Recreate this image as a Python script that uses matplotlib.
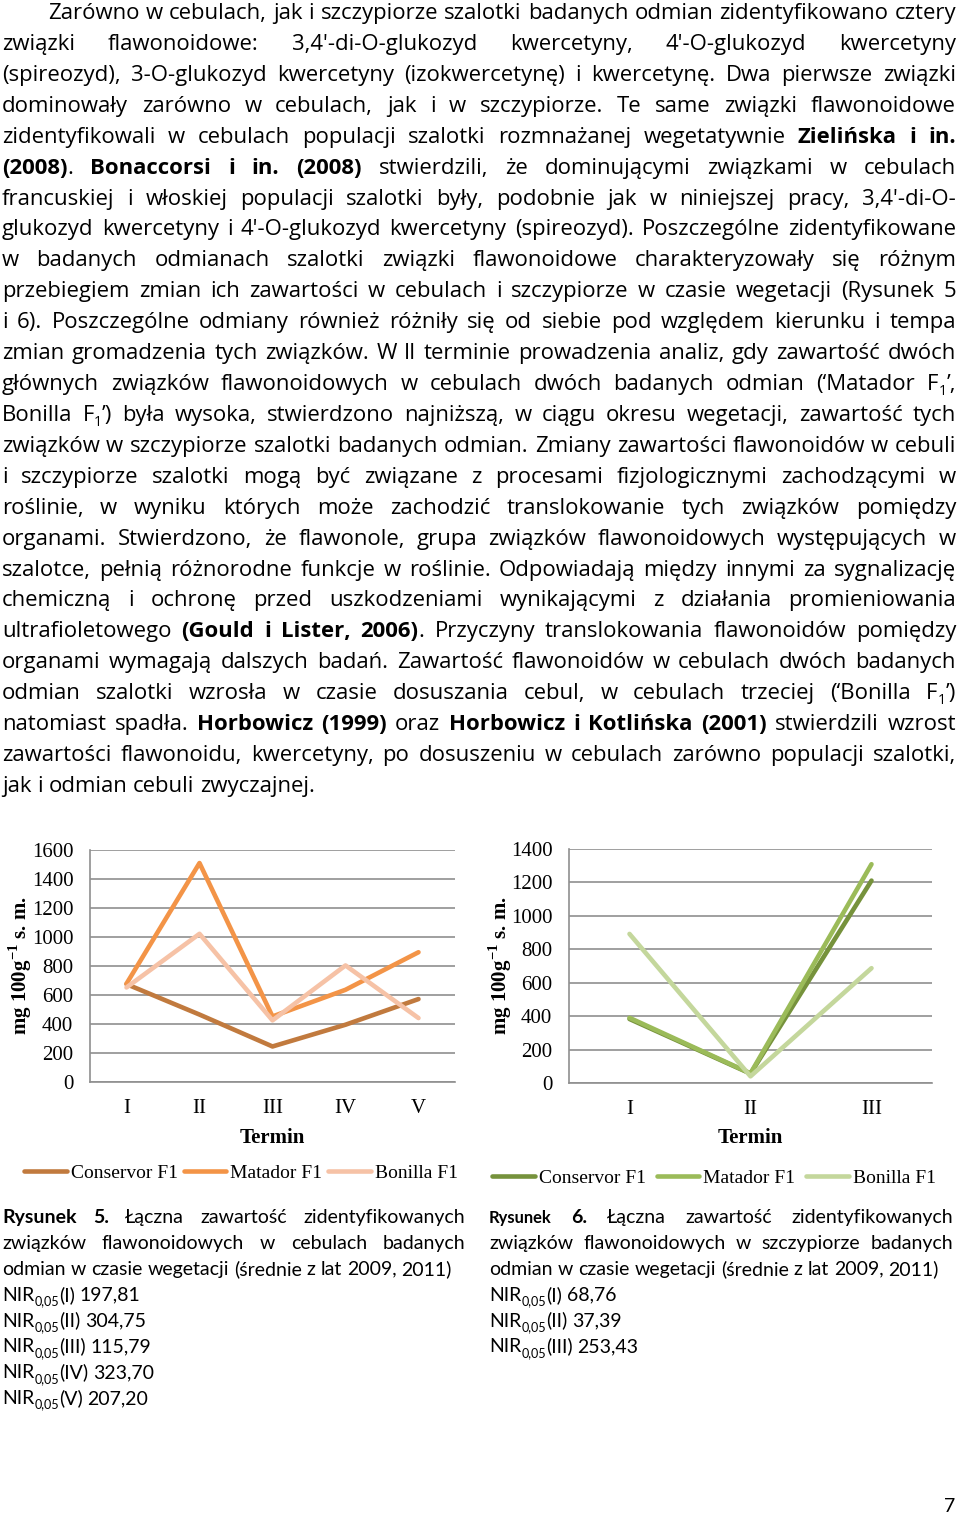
import re
import numpy as np
import matplotlib
matplotlib.use("Agg")
import matplotlib.pyplot as plt
from matplotlib import font_manager

# chart data (mg 100g-1 s. m.)
terms_bulbs = ["I", "II", "III", "IV", "V"]
conservor_bulbs = [675, 465, 245, 395, 572]
matador_bulbs = [678, 1510, 452, 636, 895]
bonilla_bulbs = [652, 1022, 425, 804, 441]

terms_chives = ["I", "II", "III"]
conservor_chives = [383, 56, 1211]
matador_chives = [390, 58, 1309]
bonilla_chives = [892, 40, 687]

varieties = ["Conservor F1", "Matador F1", "Bonilla F1"]
orange_colors = ["#C17A3E", "#F39447", "#F6C2A6"]
green_colors = ["#76923C", "#9BBB59", "#C4D79C"]

# page text; ** toggles bold, ~~ toggles smaller, _{..} is a subscript
body_lines = [
    "Zarówno w cebulach, jak i szczypiorze szalotki badanych odmian zidentyfikowano cztery",
    "związki flawonoidowe: 3,4'-di-O-glukozyd kwercetyny, 4'-O-glukozyd kwercetyny",
    "(spireozyd), 3-O-glukozyd kwercetyny (izokwercetynę) i kwercetynę. Dwa pierwsze związki",
    "dominowały zarówno w cebulach, jak i w szczypiorze. Te same związki flawonoidowe",
    "zidentyfikowali w cebulach populacji szalotki rozmnażanej wegetatywnie **Zielińska i in.**",
    "**(2008)**. **Bonaccorsi i in. (2008)** stwierdzili, że dominującymi związkami w cebulach",
    "francuskiej i włoskiej populacji szalotki były, podobnie jak w niniejszej pracy, 3,4'-di-O-",
    "glukozyd kwercetyny i 4'-O-glukozyd kwercetyny (spireozyd). Poszczególne zidentyfikowane",
    "w badanych odmianach szalotki związki flawonoidowe charakteryzowały się różnym",
    "przebiegiem zmian ich zawartości w cebulach i szczypiorze w czasie wegetacji (Rysunek 5",
    "i 6). Poszczególne odmiany również różniły się od siebie pod względem kierunku i tempa",
    "zmian gromadzenia tych związków. W II terminie prowadzenia analiz, gdy zawartość dwóch",
    "głównych związków flawonoidowych w cebulach dwóch badanych odmian (‘Matador F_{1}’,",
    "Bonilla F_{1}’) była wysoka, stwierdzono najniższą, w ciągu okresu wegetacji, zawartość tych",
    "związków w szczypiorze szalotki badanych odmian. Zmiany zawartości flawonoidów w cebuli",
    "i szczypiorze szalotki mogą być związane z procesami fizjologicznymi zachodzącymi w",
    "roślinie, w wyniku których może zachodzić translokowanie tych związków pomiędzy",
    "organami. Stwierdzono, że flawonole, grupa związków flawonoidowych występujących w",
    "szalotce, pełnią różnorodne funkcje w roślinie. Odpowiadają między innymi za sygnalizację",
    "chemiczną i ochronę przed uszkodzeniami wynikającymi z działania promieniowania",
    "ultrafioletowego **(Gould i Lister, 2006)**. Przyczyny translokowania flawonoidów pomiędzy",
    "organami wymagają dalszych badań. Zawartość flawonoidów w cebulach dwóch badanych",
    "odmian szalotki wzrosła w czasie dosuszania cebul, w cebulach trzeciej (‘Bonilla F_{1}’)",
    "natomiast spadła. **Horbowicz (1999)** oraz **Horbowicz i Kotlińska (2001)** stwierdzili wzrost",
    "zawartości flawonoidu, kwercetyny, po dosuszeniu w cebulach zarówno populacji szalotki,",
    "jak i odmian cebuli zwyczajnej.",
]
caption5_lines = [
    "**Rysunek 5.** Łączna zawartość zidentyfikowanych",
    "związków flawonoidowych w cebulach badanych",
    "odmian w czasie wegetacji (średnie z lat 2009, 2011)",
    "NIR_{0,05}(I) 197,81",
    "NIR_{0,05}(II) 304,75",
    "NIR_{0,05}(III) 115,79",
    "NIR_{0,05}(IV) 323,70",
    "NIR_{0,05}(V) 207,20",
]
caption6_lines = [
    "**~~Rysunek~~ 6.** Łączna zawartość zidentyfikowanych",
    "związków flawonoidowych w szczypiorze badanych",
    "odmian w czasie wegetacji (średnie z lat 2009, 2011)",
    "NIR_{0,05}(I) 68,76",
    "NIR_{0,05}(II) 37,39",
    "NIR_{0,05}(III) 253,43",
]

W, H = 960, 1517
avail = {f.name for f in font_manager.fontManager.ttflist}


def pick(*names):
    for n in names:
        if n in avail:
            return n
    return "DejaVu Sans"


BODY = pick("Liberation Sans Narrow", "Open Sans", "Lato")
CAP = pick("Lato", "Open Sans")
SERIF = pick("Liberation Serif", "DejaVu Serif")

plt.rcParams["mathtext.fontset"] = "custom"
plt.rcParams["mathtext.rm"] = SERIF
plt.rcParams["mathtext.bf"] = SERIF + ":bold"

fig = plt.figure(figsize=(W / 100, H / 100), dpi=100)
renderer = fig.canvas.get_renderer()


def parse(line):
    bold, small = False, False
    pieces = []
    for tok in re.split(r"(\*\*|~~|_\{[^}]*\})", line):
        if tok == "**":
            bold = not bold
        elif tok == "~~":
            small = not small
        elif tok.startswith("_{"):
            pieces.append((tok[2:-1], bold, 0.65, True))
        elif tok:
            pieces.append((tok, bold, 0.85 if small else 1.0, False))
    words = [[]]
    for text, bold, scale, sub in pieces:
        for i, part in enumerate(text.split(" ")):
            if i > 0:
                words.append([])
            if part:
                words[-1].append((part, bold, scale, sub))
    return [w for w in words if w]


def width(t):
    return t.get_window_extent(renderer).width


def make_words(line, family, size):
    words = []
    for word in parse(line):
        arts = []
        for text, bold, scale, sub in word:
            t = fig.text(0, 0, text, family=family, fontsize=size * scale,
                         weight="bold" if bold else "normal",
                         ha="left", va="baseline", color="black")
            t.scale, t.sub = scale, sub
            arts.append(t)
        words.append(arts)
    return words


def space_width(family, size):
    a = fig.text(0, 0, "n n", family=family, fontsize=size)
    b = fig.text(0, 0, "nn", family=family, fontsize=size)
    w = width(a) - width(b)
    a.remove()
    b.remove()
    return w


def resize(lines_words, size):
    for words in lines_words:
        for w in words:
            for t in w:
                t.set_fontsize(size * t.scale)


def lay_line(words, x0, x1, baseline, justify, space, size):
    widths = [sum(width(t) for t in w) for w in words]
    gap = space
    if justify and len(words) > 1:
        gap = (x1 - x0 - sum(widths)) / (len(words) - 1)
    x = x0
    for w, ww in zip(words, widths):
        xx = x
        for t in w:
            dy = 0.22 * size * 100 / 72 if t.sub else 0
            t.set_position((xx / W, 1 - (baseline + dy) / H))
            xx += width(t)
        x += ww + gap


def natural(words, space):
    return sum(width(t) for w in words for t in w) + (len(words) - 1) * space


# body paragraph, font size fitted so the tightest line just fills the width
body_x0, body_x1 = 2, 956
body_words = [make_words(l, BODY, 10) for l in body_lines]
sp = space_width(BODY, 10)
ratio = min((body_x1 - (48 if i == 0 else body_x0)) / natural(w, sp)
            for i, w in enumerate(body_words[:-1]))
body_size = 10 * ratio * 0.995
resize(body_words, body_size)
sp = space_width(BODY, body_size)
for i, words in enumerate(body_words):
    x0 = 48 if i == 0 else body_x0
    lay_line(words, x0, body_x1, 19 + i * 30.92, i < len(body_words) - 1, sp, body_size)


def caption(lines, x0, x1, x1_third):
    words_all = [make_words(l, CAP, 10) for l in lines]
    s = space_width(CAP, 10)
    size = 10 * (x1_third - x0) / natural(words_all[2], s)
    resize(words_all, size)
    s = space_width(CAP, size)
    for i, words in enumerate(words_all):
        lay_line(words, x0, x1, 1223 + i * 25.9, i < 2, s, size)
    return size


cap_size = caption(caption5_lines, 2, 465, 450)
caption(caption6_lines, 489, 953, 938)

fig.text(950 / W, 1 - 1507 / H, "7", family=CAP, fontsize=cap_size, ha="center", va="center")


def chart(rect, terms, series, colors, ymax, label_x, legend_center, colspace):
    left, top, right, bottom = rect
    ax = fig.add_axes([left / W, 1 - bottom / H, (right - left) / W, (bottom - top) / H])
    x = np.arange(len(terms))
    for vals, col, name in zip(series, colors, varieties):
        ax.plot(x, vals, color=col, lw=3.3, label=name, solid_capstyle="round")
    ax.set_xlim(-0.5, len(terms) - 0.5)
    ax.set_ylim(0, ymax)
    ax.set_yticks(np.arange(0, ymax + 1, 200))
    ax.set_xticks(x)
    ax.set_xticklabels(terms)
    ax.yaxis.grid(True, color="#8f8f8f", lw=1.2)
    ax.set_axisbelow(True)
    for s in ["top", "right"]:
        ax.spines[s].set_visible(False)
    for s in ["left", "bottom"]:
        ax.spines[s].set_color("#8f8f8f")
        ax.spines[s].set_linewidth(1.2)
    ax.tick_params(length=0, labelsize=15, pad=12)
    for lab in ax.get_xticklabels() + ax.get_yticklabels():
        lab.set_family(SERIF)
    ax.set_xlabel("Termin", family=SERIF, fontsize=15, weight="bold")
    ax.xaxis.set_label_coords(0.5, (bottom - 1138) / (bottom - top))
    ax.xaxis.label.set_va("center")
    ax.set_ylabel(r"mg 100g$^{\mathbf{-1}}$ s. m.", family=SERIF, fontsize=15, weight="bold")
    ax.yaxis.set_label_coords((label_x - left) / (right - left), 0.5)
    ax.yaxis.label.set_va("center")
    fig.legend(handles=ax.get_lines(), loc="center",
               bbox_to_anchor=(legend_center[0] / W, 1 - legend_center[1] / H),
               ncol=3, frameon=False, prop={"family": SERIF, "size": 14},
               handlelength=2.2, handletextpad=0.2, columnspacing=colspace)
    return ax


chart((90, 850, 455, 1082), terms_bulbs,
      [conservor_bulbs, matador_bulbs, bonilla_bulbs], orange_colors, 1600, 20, (241, 1173), 0.3)
chart((569, 849, 932, 1083), terms_chives,
      [conservor_chives, matador_chives, bonilla_chives], green_colors, 1400, 500, (714, 1178), 0.55)

fig.savefig("out.png", dpi=100)
